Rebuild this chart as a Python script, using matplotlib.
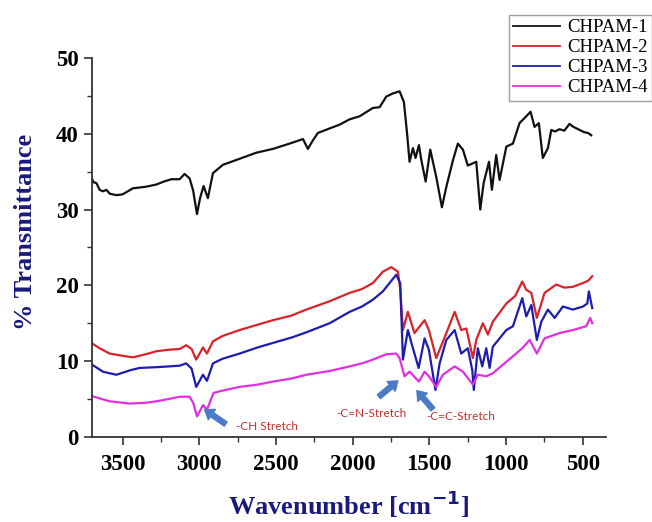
import matplotlib.pyplot as plt
from matplotlib.ticker import MultipleLocator

# FTIR spectra, wavenumber (cm-1) vs % transmittance
wn_1 = [3704, 3690, 3671, 3650, 3628, 3605, 3585, 3541, 3500, 3433, 3350, 3280, 3230, 3182, 3128,
        3096, 3063, 3040, 3015, 2995, 2972, 2944, 2911, 2846, 2750, 2628, 2520, 2411, 2324, 2292,
        2263, 2227, 2150, 2085, 2020, 1955, 1868, 1824, 1781, 1740, 1694, 1666, 1645, 1629, 1607,
        1590, 1568, 1552, 1524, 1494, 1455, 1418, 1389, 1346, 1314, 1281, 1249, 1194, 1168, 1146,
        1111, 1092, 1064, 1042, 998, 955, 912, 868, 840, 814, 786, 760, 727, 705, 680, 651, 620,
        586, 560, 520, 490, 465, 444]
tr_1 = [34.3, 33.6, 33.5, 32.6, 32.4, 32.6, 32.1, 31.9, 32.0, 32.8, 33.0, 33.3, 33.7, 34.0, 34.0,
        34.7, 34.1, 32.5, 29.4, 31.5, 33.1, 31.5, 34.8, 35.9, 36.6, 37.5, 38.0, 38.7, 39.3, 38.0,
        39.0, 40.1, 40.7, 41.2, 41.9, 42.3, 43.4, 43.5, 44.9, 45.3, 45.6, 44.2, 40.0, 36.3, 38.1,
        36.8, 38.5, 36.5, 33.7, 37.9, 34.3, 30.3, 33.0, 36.5, 38.7, 37.9, 35.8, 36.3, 30.0, 33.5,
        36.3, 32.6, 37.2, 33.9, 38.3, 38.7, 41.4, 42.3, 42.9, 40.9, 41.4, 36.8, 38.1, 40.5, 40.3,
        40.6, 40.4, 41.3, 40.9, 40.5, 40.2, 40.1, 39.8]

wn_2 = [3704, 3650, 3585, 3500, 3433, 3350, 3280, 3200, 3128, 3085, 3050, 3020, 2976, 2950, 2911,
        2850, 2737, 2620, 2520, 2400, 2302, 2150, 2020, 1940, 1868, 1803, 1748, 1705, 1690, 1672,
        1640, 1597, 1531, 1503, 1455, 1389, 1335, 1292, 1259, 1216, 1194, 1151, 1118, 1086, 998,
        940, 894, 868, 835, 799, 749, 673, 620, 564, 499, 465, 438]
tr_2 = [12.4, 11.7, 11.0, 10.7, 10.5, 10.9, 11.3, 11.5, 11.6, 12.1, 11.6, 10.2, 11.8, 11.0, 12.6,
        13.3, 14.1, 14.8, 15.4, 16.0, 16.8, 17.9, 19.0, 19.5, 20.3, 21.8, 22.4, 21.8, 19.5, 14.1,
        16.5, 13.7, 15.4, 14.1, 10.4, 13.7, 16.5, 14.1, 14.3, 10.4, 12.8, 15.0, 13.5, 15.2, 17.6,
        18.6, 20.5, 19.4, 19.0, 15.7, 19.0, 20.1, 19.7, 19.8, 20.3, 20.6, 21.2]

wn_3 = [3704, 3628, 3541, 3450, 3389, 3280, 3200, 3128, 3085, 3050, 3020, 2976, 2950, 2911, 2850,
        2737, 2620, 2520, 2400, 2302, 2150, 2020, 1940, 1868, 1803, 1716, 1690, 1672, 1640, 1607,
        1570, 1531, 1503, 1460, 1433, 1389, 1335, 1292, 1249, 1220, 1210, 1184, 1155, 1129, 1107,
        1086, 998, 955, 894, 868, 835, 799, 770, 727, 683, 629, 564, 499, 470, 460, 438]
tr_3 = [9.6, 8.6, 8.2, 8.8, 9.1, 9.2, 9.3, 9.4, 9.7, 9.0, 6.6, 8.2, 7.4, 9.7, 10.3,
        11.0, 11.8, 12.4, 13.1, 13.8, 15.0, 16.5, 17.2, 18.1, 19.2, 21.4, 20.3, 10.2, 14.1, 11.7,
        9.1, 13.0, 11.5, 6.2, 9.7, 12.8, 14.1, 11.0, 11.7, 8.8, 6.2, 11.7, 9.3, 11.7, 9.1,
        11.9, 14.1, 14.6, 18.3, 15.9, 17.4, 12.8, 15.2, 16.8, 15.7, 17.2, 16.8, 17.2, 17.6, 19.2, 17.0]

wn_4 = [3704, 3585, 3455, 3350, 3280, 3200, 3128, 3063, 3040, 3015, 2976, 2950, 2907, 2850, 2737,
        2620, 2520, 2400, 2302, 2150, 2020, 1940, 1868, 1781, 1716, 1694, 1662, 1629, 1568, 1531,
        1503, 1455, 1412, 1335, 1281, 1216, 1184, 1129, 1086, 998, 894, 846, 799, 749, 651, 564,
        477, 451, 438]
tr_4 = [5.4, 4.7, 4.4, 4.5, 4.7, 5.0, 5.3, 5.3, 4.5, 2.7, 4.2, 3.6, 5.8, 6.1, 6.6,
        6.9, 7.3, 7.7, 8.2, 8.7, 9.3, 9.7, 10.2, 10.9, 11.0, 10.4, 8.0, 8.6, 7.3, 8.6,
        8.0, 6.6, 8.2, 9.3, 8.6, 6.9, 8.2, 8.0, 8.4, 9.9, 11.7, 12.8, 11.0, 13.0, 13.7, 14.1,
        14.6, 15.7, 15.0]

labels = ['CHPAM-1', 'CHPAM-2', 'CHPAM-3', 'CHPAM-4']
colors = ['#111111', '#d8232a', '#1c1cb0', '#e22ee2']

navy = '#1a1a7e'
note_red = '#c0302e'
arrow_blue = '#4a7bc4'

fig = plt.figure(figsize=(6.52, 5.22), dpi=100)
ax = fig.add_axes([0.141, 0.163, 0.788, 0.726])

series = [(wn_1, tr_1), (wn_2, tr_2), (wn_3, tr_3), (wn_4, tr_4)]
for (wn, tr), lab, c in zip(series, labels, colors):
    ax.plot(wn, tr, color=c, lw=1.6, label=lab)

ax.set_xlim(3700, 350)
ax.set_ylim(0, 50)
ax.xaxis.set_major_locator(MultipleLocator(500))
ax.xaxis.set_minor_locator(MultipleLocator(250))
ax.yaxis.set_major_locator(MultipleLocator(10))
ax.yaxis.set_minor_locator(MultipleLocator(5))
ax.set_xticks([3500, 3000, 2500, 2000, 1500, 1000, 500])

for side in ['top', 'right']:
    ax.spines[side].set_visible(False)
for side in ['left', 'bottom']:
    ax.spines[side].set_linewidth(1.3)
    ax.spines[side].set_color('#333333')

ax.tick_params(which='major', direction='out', length=6, width=1.2, color='#333333')
ax.tick_params(which='minor', direction='out', length=3.5, width=1.0, color='#333333')
ax.tick_params(axis='x', pad=6)
for t in ax.get_xticklabels() + ax.get_yticklabels():
    t.set_fontfamily('Liberation Serif')
    t.set_fontweight('bold')
    t.set_fontsize(16.5)

ax.set_ylabel('% Transmittance', fontfamily='Liberation Serif', fontweight='bold',
              fontsize=19, color=navy, va='center')
ax.yaxis.set_label_coords(-0.13, 0.54)
ax.set_xlabel('Wavenumber [cm$^{\\mathbf{-1}}$]', fontfamily='Liberation Serif',
              fontweight='bold', fontsize=19, color=navy, va='center')
ax.xaxis.set_label_coords(0.5, -0.178)

leg = fig.legend(loc='upper right', bbox_to_anchor=(1.0, 0.972), frameon=True,
                 fancybox=False, edgecolor='#888888', borderpad=0.25, labelspacing=0.15,
                 handlelength=2.5, handletextpad=0.35, borderaxespad=0,
                 prop={'family': 'Liberation Serif', 'size': 13.5})
leg.get_frame().set_linewidth(1.0)
for line in leg.get_lines():
    line.set_linewidth(1.3)

# peak assignment arrows
arrow_kw = dict(arrowstyle='simple,head_width=1.0,head_length=0.7,tail_width=0.4',
                color=arrow_blue, shrinkA=0, shrinkB=0, mutation_scale=9)
ax.annotate('', xy=(2965, 3.6), xytext=(2828, 1.7), arrowprops=arrow_kw)
ax.annotate('', xy=(1705, 7.4), xytext=(1829, 5.3), arrowprops=arrow_kw)
ax.annotate('', xy=(1581, 6.1), xytext=(1477, 3.65), arrowprops=arrow_kw)

note_kw = dict(color=note_red, fontsize=8.5, fontfamily='Lato', va='center')
ax.text(2759, 1.4, '-CH Stretch', ha='left', **note_kw)
ax.text(1880, 3.1, '-C=N-Stretch', ha='center', **note_kw)
ax.text(1296, 2.7, '-C=C-Stretch', ha='center', **note_kw)

fig.savefig('out.png', dpi=100)
